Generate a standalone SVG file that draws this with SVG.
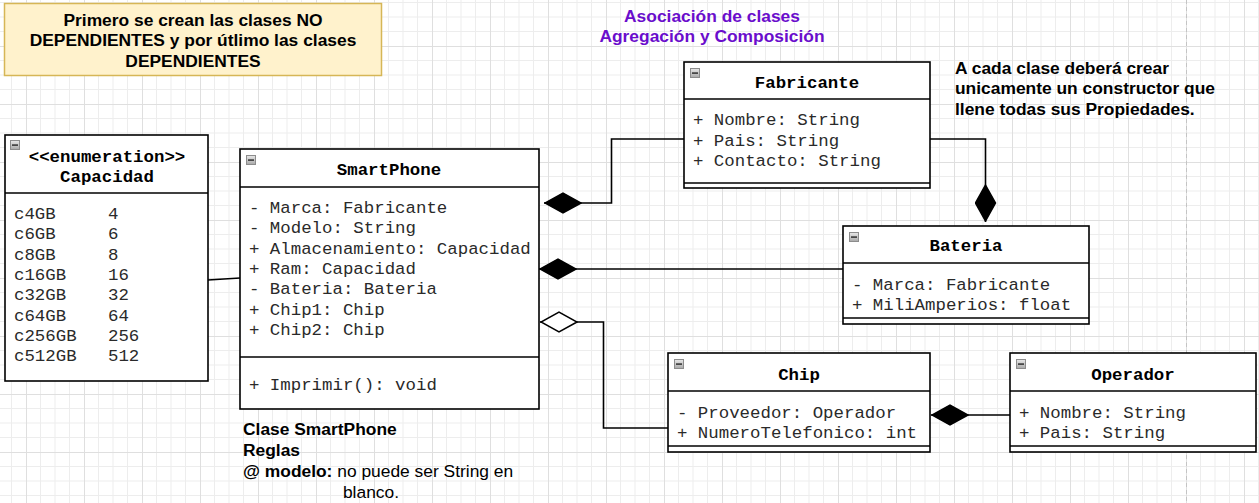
<svg xmlns="http://www.w3.org/2000/svg" width="1259" height="503" viewBox="0 0 1259 503">
<defs>
<pattern id="grid" patternUnits="userSpaceOnUse" x="26" y="46" width="58" height="58">
<rect x="14" y="0" width="1" height="58" fill="#ededed"/>
<rect x="28.5" y="0" width="1" height="58" fill="#ededed"/>
<rect x="43" y="0" width="1" height="58" fill="#ededed"/>
<rect x="0" y="14" width="58" height="1" fill="#ededed"/>
<rect x="0" y="28.5" width="58" height="1" fill="#ededed"/>
<rect x="0" y="43" width="58" height="1" fill="#ededed"/>
<rect x="0" y="0" width="1" height="58" fill="#dfdfdf"/>
<rect x="0" y="0" width="58" height="1" fill="#dfdfdf"/>
</pattern>
<marker id="dFill" markerUnits="userSpaceOnUse" viewBox="0 0 38 22" markerWidth="38" markerHeight="22" refX="38" refY="11" orient="auto">
<path d="M1,11 L19,1 L37,11 L19,21 Z" fill="#000" stroke="#000" stroke-width="1.5"/>
</marker>
<marker id="dOpen" markerUnits="userSpaceOnUse" viewBox="0 0 38 22" markerWidth="38" markerHeight="22" refX="38" refY="11" orient="auto">
<path d="M1,11 L19,1 L37,11 L19,21 Z" fill="#fff" stroke="#000" stroke-width="1.5"/>
</marker>
<linearGradient id="ig" x1="0" y1="0" x2="0" y2="1">
<stop offset="0" stop-color="#e8e8e8"/>
<stop offset="1" stop-color="#a8a8a8"/>
</linearGradient>
<g id="icon">
<rect x="0.5" y="0.5" width="9" height="9" fill="url(#ig)" stroke="#8c8c8c" stroke-width="1"/>
<rect x="2" y="4.3" width="6" height="1.6" fill="#3a3a3a"/>
</g>
</defs>
<style>
.box{fill:#fff;stroke:#000;stroke-width:1.6}
.sep{stroke:#000;stroke-width:1.6}
.mono{font-family:"Liberation Mono","Courier New",monospace;font-size:17.4px;fill:#2a2a2a}
.title{font-family:"Liberation Mono","Courier New",monospace;font-size:17.4px;font-weight:bold;fill:#000;text-anchor:middle}
.note{font-family:"Liberation Sans",Arial,sans-serif;font-size:17.4px;font-weight:bold;fill:#000}
.purple{fill:#6a0dcc}
.conn{fill:none;stroke:#000;stroke-width:1.6}
</style>
<rect width="1259" height="503" fill="#fff"/>
<rect width="1259" height="503" fill="url(#grid)"/>
<line x1="1186.5" y1="0" x2="1186.5" y2="503" stroke="#c4c4c4" stroke-width="1" stroke-dasharray="4,3"/>

<g id="note-orden">
<rect x="4.5" y="3.5" width="377" height="72" fill="#fff2cc" stroke="#d6b656" stroke-width="1.5"/>
<text class="note" x="193" y="26" text-anchor="middle">Primero se crean las clases NO</text>
<text class="note" x="193" y="46" text-anchor="middle">DEPENDIENTES y por útlimo las clases</text>
<text class="note" x="193" y="67" text-anchor="middle">DEPENDIENTES</text>
</g>

<g id="titulo">
<text class="note purple" x="712" y="22" text-anchor="middle">Asociación de clases</text>
<text class="note purple" x="712" y="42" text-anchor="middle">Agregación y Composición</text>
</g>

<g id="note-constructor">
<text class="note" x="955" y="74">A cada clase deberá crear</text>
<text class="note" x="955" y="94">unicamente un constructor que</text>
<text class="note" x="955" y="115">llene todas sus Propiedades.</text>
</g>

<g id="note-reglas">
<text class="note" x="243" y="435">Clase SmartPhone</text>
<text class="note" x="243" y="456">Reglas</text>
<text class="note" x="243" y="477">@ modelo: <tspan font-weight="normal">no puede ser String en</tspan></text>
<text class="note" x="371" y="498" text-anchor="middle" style="font-weight:normal">blanco.</text>
</g>

<g id="connectors">
<path class="conn" d="M684,139 H611.5 V203 H544" marker-end="url(#dFill)"/>
<path class="conn" d="M930,139 H985.5 V222" marker-end="url(#dFill)"/>
<path class="conn" d="M843,269 H539" marker-end="url(#dFill)"/>
<path class="conn" d="M668,428 H603.5 V322 H540" marker-end="url(#dOpen)"/>
<path class="conn" d="M1010,415 H931" marker-end="url(#dFill)"/>
<path class="conn" d="M208,280 L240,278"/>
</g>

<g id="Capacidad">
<rect class="box" x="5" y="135" width="203" height="246"/>
<line class="sep" x1="5" y1="193" x2="208" y2="193"/>
<use href="#icon" x="10" y="140"/>
<text class="title" x="107" y="162">&lt;&lt;enumeration&gt;&gt;</text>
<text class="title" x="107" y="182">Capacidad</text>
<text class="mono" x="14" y="219">c4GB</text><text class="mono" x="108" y="219">4</text>
<text class="mono" x="14" y="239.3">c6GB</text><text class="mono" x="108" y="239.3">6</text>
<text class="mono" x="14" y="259.6">c8GB</text><text class="mono" x="108" y="259.6">8</text>
<text class="mono" x="14" y="279.9">c16GB</text><text class="mono" x="108" y="279.9">16</text>
<text class="mono" x="14" y="300.2">c32GB</text><text class="mono" x="108" y="300.2">32</text>
<text class="mono" x="14" y="320.5">c64GB</text><text class="mono" x="108" y="320.5">64</text>
<text class="mono" x="14" y="340.8">c256GB</text><text class="mono" x="108" y="340.8">256</text>
<text class="mono" x="14" y="361.1">c512GB</text><text class="mono" x="108" y="361.1">512</text>
</g>

<g id="SmartPhone">
<rect class="box" x="240" y="149" width="299" height="260"/>
<line class="sep" x1="240" y1="187" x2="539" y2="187"/>
<line class="sep" x1="240" y1="357" x2="539" y2="357"/>
<use href="#icon" x="246" y="155"/>
<text class="title" x="389" y="175">SmartPhone</text>
<text class="mono" x="249" y="213">- Marca: Fabricante</text>
<text class="mono" x="249" y="233.3">- Modelo: String</text>
<text class="mono" x="249" y="253.6">+ Almacenamiento: Capacidad</text>
<text class="mono" x="249" y="273.9">+ Ram: Capacidad</text>
<text class="mono" x="249" y="294.2">- Bateria: Bateria</text>
<text class="mono" x="249" y="314.5">+ Chip1: Chip</text>
<text class="mono" x="249" y="334.8">+ Chip2: Chip</text>
<text class="mono" x="249" y="390">+ Imprimir(): void</text>
</g>

<g id="Fabricante">
<rect class="box" x="684" y="62" width="246" height="126"/>
<line class="sep" x1="684" y1="99" x2="930" y2="99"/>
<line class="sep" x1="684" y1="183" x2="930" y2="183"/>
<use href="#icon" x="690" y="68"/>
<text class="title" x="807" y="88">Fabricante</text>
<text class="mono" x="693" y="125">+ Nombre: String</text>
<text class="mono" x="693" y="145.5">+ Pais: String</text>
<text class="mono" x="693" y="166">+ Contacto: String</text>
</g>

<g id="Bateria">
<rect class="box" x="843" y="226" width="246" height="98"/>
<line class="sep" x1="843" y1="263" x2="1089" y2="263"/>
<line class="sep" x1="843" y1="318" x2="1089" y2="318"/>
<use href="#icon" x="849" y="232"/>
<text class="title" x="966" y="251">Bateria</text>
<text class="mono" x="852" y="290">- Marca: Fabricante</text>
<text class="mono" x="852" y="310">+ MiliAmperios: float</text>
</g>

<g id="Chip">
<rect class="box" x="668" y="353" width="262" height="99"/>
<line class="sep" x1="668" y1="391" x2="930" y2="391"/>
<line class="sep" x1="668" y1="446" x2="930" y2="446"/>
<use href="#icon" x="674" y="359"/>
<text class="title" x="799" y="380">Chip</text>
<text class="mono" x="677" y="418">- Proveedor: Operador</text>
<text class="mono" x="677" y="438">+ NumeroTelefonico: int</text>
</g>

<g id="Operador">
<rect class="box" x="1010" y="353" width="246" height="99"/>
<line class="sep" x1="1010" y1="391" x2="1256" y2="391"/>
<line class="sep" x1="1010" y1="446" x2="1256" y2="446"/>
<use href="#icon" x="1016" y="359"/>
<text class="title" x="1133" y="380">Operador</text>
<text class="mono" x="1019" y="418">+ Nombre: String</text>
<text class="mono" x="1019" y="438">+ Pais: String</text>
</g>
</svg>
